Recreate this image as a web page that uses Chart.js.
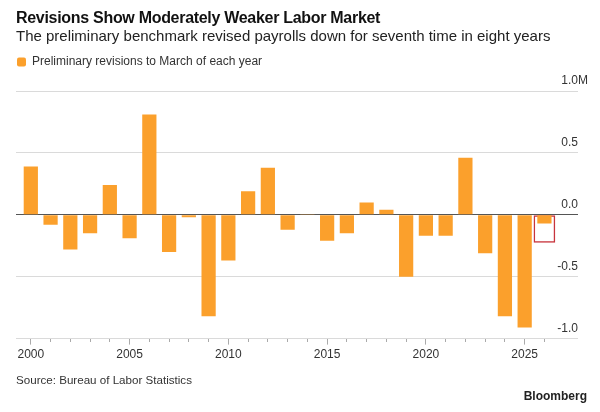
<!DOCTYPE html>
<html>
<head>
<meta charset="utf-8">
<script src="https://cdn.jsdelivr.net/npm/chart.js@4.4.1/dist/chart.umd.min.js"></script>
<style>
  body { margin: 0; background: #fff; font-family: "Liberation Sans", Arial, sans-serif; }
  #wrap { position: relative; width: 600px; height: 412px; overflow: hidden; }
  #chart { position: absolute; left: 0; top: 0; }
  .txt { position: absolute; white-space: nowrap; }
  #title { left: 16px; top: 9px; font-size: 16px; font-weight: bold; color: #111; letter-spacing: -0.3px; }
  #subtitle { left: 16px; top: 27px; font-size: 15px; color: #222; }
  #source { left: 16px; top: 373px; font-size: 11.6px; color: #333; }
  #brand { right: 13px; top: 389px; font-size: 12px; font-weight: bold; color: #222; }
</style>
</head>
<body>
<div id="wrap">
  <canvas id="chart" width="600" height="412"></canvas>
  <div class="txt" id="title">Revisions Show Moderately Weaker Labor Market</div>
  <div class="txt" id="subtitle">The preliminary benchmark revised payrolls down for seventh time in eight years</div>
  <div class="txt" id="source">Source: Bureau of Labor Statistics</div>
  <div class="txt" id="brand">Bloomberg</div>
</div>
<script>
// Years of each benchmark (March)
var years = [2000, 2001, 2002, 2003, 2004, 2005, 2006, 2007, 2008, 2009,
             2010, 2011, 2012, 2013, 2014, 2015, 2016, 2017, 2018, 2019,
             2020, 2021, 2022, 2023, 2024, 2025, 2026];

// Preliminary revisions, millions of jobs
var revisions = [0.39, -0.08, -0.28, -0.15, 0.24, -0.19, 0.81, -0.30, -0.02, -0.82,
                 -0.37, 0.19, 0.38, -0.12, 0.007, -0.21, -0.15, 0.10, 0.04, -0.50,
                 -0.17, -0.17, 0.46, -0.31, -0.82, -0.91, -0.07];

// Highlighted latest estimate (red box)
var highlightYear = 2026;
var highlightRange = [0, -0.225];

var yTicks = [-1.0, -0.5, 0.0, 0.5, 1.0];
var xLabelYears = [2000, 2005, 2010, 2015, 2020, 2025];

var orange = '#FBA02C';
var fontName = '"Liberation Sans", Arial, sans-serif';

var points = [];
for (var i = 0; i < years.length; i++) {
    points.push({ x: years[i], y: revisions[i] });
}

function tickVal(c) {
    return c && c.tick ? c.tick.value : null;
}

// draws the "M" unit after the top tick label
var unitPlugin = {
    id: 'unitLabel',
    afterDraw: function (chart) {
        var yScale = chart.scales.y;
        var ctx = chart.ctx;
        ctx.save();
        ctx.font = '12px ' + fontName;
        ctx.fillStyle = '#333';
        ctx.textAlign = 'left';
        ctx.textBaseline = 'middle';
        ctx.fillText('M', chart.chartArea.right, yScale.getPixelForValue(yTicks[yTicks.length - 1]) - 10);
        ctx.restore();
    }
};

// extra room between legend and plot
var legendGap = {
    id: 'legendGap',
    beforeInit: function (chart) {
        var fit = chart.legend.fit;
        chart.legend.fit = function () {
            fit.bind(chart.legend)();
            this.height += 13;
        };
    }
};

var ctx = document.getElementById('chart');

var barChart = new Chart(ctx, {
    type: 'bar',
    data: {
        datasets: [{
            label: 'Preliminary revisions to March of each year',
            data: points,
            backgroundColor: orange,
            borderWidth: 0,
            categoryPercentage: 0.8,
            barPercentage: 0.9
        }, {
            label: 'highlight',
            data: [{ x: highlightYear, y: highlightRange }],
            backgroundColor: 'rgba(0,0,0,0)',
            borderColor: '#C8343C',
            borderWidth: 1.5,
            borderSkipped: false,
            grouped: false,
            categoryPercentage: 1,
            barPercentage: 1.1
        }]
    },
    options: {
        responsive: false,
        animation: false,
        layout: { padding: { left: 16, right: 22, top: 55, bottom: 47 } },
        plugins: {
            legend: {
                position: 'top',
                align: 'start',
                labels: {
                    filter: function (item) { return item.datasetIndex === 0; },
                    boxWidth: 9,
                    boxHeight: 9,
                    useBorderRadius: true,
                    borderRadius: 2,
                    padding: 1,
                    color: '#333',
                    font: { family: fontName, size: 12 }
                }
            },
            tooltip: { enabled: false }
        },
        scales: {
            x: {
                type: 'linear',
                min: 1999.25,
                max: 2027.7,
                offset: false,
                afterBuildTicks: function (scale) {
                    scale.ticks = years.map(function (v) { return { value: v }; });
                },
                grid: {
                    offset: false,
                    drawOnChartArea: false,
                    tickLength: 6,
                    tickColor: '#aaa',
                    tickBorderDash: function (c) {
                        return xLabelYears.indexOf(tickVal(c)) >= 0 ? [] : [3, 20];
                    }
                },
                border: { display: false },
                ticks: {
                    autoSkip: false,
                    maxRotation: 0,
                    padding: 3,
                    color: '#333',
                    font: { family: fontName, size: 12 },
                    callback: function (v) {
                        return xLabelYears.indexOf(v) >= 0 ? String(v) : '';
                    }
                }
            },
            y: {
                position: 'right',
                min: yTicks[0],
                max: yTicks[yTicks.length - 1],
                afterBuildTicks: function (scale) {
                    scale.ticks = yTicks.map(function (v) { return { value: v }; });
                },
                grid: {
                    drawTicks: false,
                    color: function (c) {
                        return tickVal(c) === 0 ? '#555' : '#dadada';
                    }
                },
                border: { display: false },
                ticks: {
                    mirror: true,
                    padding: 0,
                    labelOffset: -10,
                    color: '#333',
                    font: { family: fontName, size: 12 },
                    callback: function (v) { return v.toFixed(1); }
                }
            }
        }
    },
    plugins: [unitPlugin, legendGap]
});
</script>
</body>
</html>
